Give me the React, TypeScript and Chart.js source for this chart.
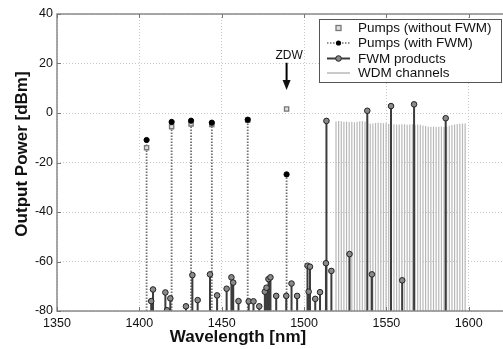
import React, { useEffect, useRef } from "react";
import { Chart, registerables } from "chart.js";

Chart.register(...registerables);

// ---------- data ----------
const X_TICKS = [1350, 1400, 1450, 1500, 1550, 1600, 1650];
const Y_TICKS = [-80, -60, -40, -20, 0, 20, 40];
const X_MIN = 1350;
const X_MAX = 1650;
const Y_MIN = -80;
const Y_MAX = 40;

const pumpWl = [1404.4, 1419.6, 1431.4, 1444.0, 1465.8, 1489.4];
const pumpWithFwm = [-10.9, -3.6, -3.1, -3.9, -2.7, -24.8];
const pumpWithoutFwm = [-14.0, -5.5, -4.4, -4.6, -2.9, 1.6];

const fwmWl = [
  1407.2, 1408.3, 1415.8, 1416.8, 1418.8, 1428.3, 1432.2, 1435.4, 1442.9, 1447.2,
  1453.0, 1455.9, 1457.0, 1460.2, 1466.4, 1469.3, 1472.8, 1476.2, 1477.2, 1478.4,
  1479.6, 1483.1, 1489.2, 1492.4, 1495.8, 1502.1, 1502.8, 1503.6, 1506.8, 1509.7,
  1513.3, 1513.6, 1516.6, 1527.6, 1538.4, 1541.2, 1552.8, 1559.6, 1566.8, 1586.0,
];
const fwmPower = [
  -76.0, -71.3, -72.5, -79.7, -74.9, -78.1, -65.5, -75.6, -65.2, -73.7,
  -71.0, -66.4, -68.5, -76.0, -76.1, -76.1, -78.1, -72.2, -70.6, -67.1,
  -66.4, -73.9, -73.9, -68.9, -73.9, -61.7, -72.2, -62.1, -75.1, -72.4,
  -60.7, -3.2, -63.8, -57.0, 0.9, -65.2, 2.8, -67.6, 3.5, -2.1,
];

const wdmWl = [
  1519.4, 1521.0, 1522.6, 1524.2, 1525.8, 1527.4, 1529.0, 1530.6, 1532.2, 1533.8,
  1535.4, 1537.0, 1538.6, 1540.2, 1541.8, 1543.4, 1545.0, 1546.6, 1548.2, 1549.8,
  1551.4, 1553.0, 1554.6, 1556.2, 1557.8, 1559.4, 1561.0, 1562.6, 1564.2, 1565.8,
  1567.4, 1569.0, 1570.6, 1572.2, 1573.8, 1575.4, 1577.0, 1578.6, 1580.2, 1581.8,
  1583.4, 1585.0, 1586.6, 1588.2, 1589.8, 1591.4, 1593.0, 1594.6, 1596.2, 1597.8,
];
const wdmPower = [
  -3.4, -3.2, -3.3, -3.5, -3.4, -3.6, -3.5, -3.7, -3.5, -3.3,
  -3.2, -3.4, -3.8, -4.3, -4.2, -4.0, -3.9, -4.0, -4.1, -4.0,
  -4.4, -4.3, -4.5, -4.6, -4.6, -4.5, -4.5, -4.7, -4.6, -4.5,
  -4.8, -4.6, -4.7, -5.0, -5.3, -5.6, -5.6, -5.5, -5.7, -5.6,
  -5.5, -5.7, -5.6, -5.2, -4.8, -4.6, -4.4, -4.3, -4.2, -4.2,
];

const ZDW_WL = 1489.4;
const ZDW_ARROW_TOP = 20.3;
const ZDW_ARROW_TIP = 9.3;

const legendLabels = [
  "Pumps (without FWM)",
  "Pumps (with FWM)",
  "FWM products",
  "WDM channels",
];

const X_TITLE = "Wavelength [nm]";
const Y_TITLE = "Output Power [dBm]";

// ---------- styles ----------
const FONT = "'Liberation Sans', Arial, Helvetica, sans-serif";
const C_PUMP_STEM = "#707070";
const C_FWM_STEM = "#3c3c3c";
const C_WDM = "#b8b8b8";

function stems(xs: number[], ys: number[]) {
  const out: any[] = [];
  xs.forEach((x, i) => {
    out.push({ x, y: Y_MIN }, { x, y: ys[i] }, { x, y: null });
  });
  return out;
}
function points(xs: number[], ys: number[]) {
  return xs.map((x, i) => ({ x, y: ys[i] }));
}

const overlay = {
  id: "overlay",
  afterDatasetsDraw(chart: any) {
    const { ctx, chartArea: a, scales } = chart;
    const xs = scales.x;
    const ys = scales.y;
    ctx.save();
    // box
    ctx.strokeStyle = "#8a8a8a";
    ctx.lineWidth = 1.5;
    ctx.setLineDash([]);
    ctx.strokeRect(a.left, a.top, a.right - a.left, a.bottom - a.top);
    // inward ticks
    ctx.lineWidth = 1;
    ctx.strokeStyle = "#777";
    ctx.beginPath();
    xs.ticks.forEach((t: any) => {
      const px = Math.round(xs.getPixelForValue(t.value)) + 0.5;
      ctx.moveTo(px, a.top);
      ctx.lineTo(px, a.top + 4);
      ctx.moveTo(px, a.bottom);
      ctx.lineTo(px, a.bottom - 4);
    });
    ys.ticks.forEach((t: any) => {
      const py = Math.round(ys.getPixelForValue(t.value)) + 0.5;
      ctx.moveTo(a.left, py);
      ctx.lineTo(a.left + 4, py);
    });
    ctx.stroke();

    // ZDW annotation
    const zx = xs.getPixelForValue(ZDW_WL);
    const zTop = ys.getPixelForValue(ZDW_ARROW_TOP);
    const zTip = ys.getPixelForValue(ZDW_ARROW_TIP);
    ctx.fillStyle = "#111";
    ctx.font = `12px ${FONT}`;
    ctx.textAlign = "center";
    ctx.textBaseline = "middle";
    ctx.fillText("ZDW", zx + 2.5, zTop - 7);
    ctx.strokeStyle = "#000";
    ctx.lineWidth = 2;
    ctx.beginPath();
    ctx.moveTo(zx, zTop);
    ctx.lineTo(zx, zTip - 8);
    ctx.stroke();
    ctx.beginPath();
    ctx.moveTo(zx - 4, zTip - 10);
    ctx.lineTo(zx + 4, zTip - 10);
    ctx.lineTo(zx, zTip);
    ctx.closePath();
    ctx.fill();

    // legend
    const lx = 319, ly = 19, lw = 182, lh = 63;
    ctx.fillStyle = "#fff";
    ctx.fillRect(lx, ly, lw, lh);
    ctx.strokeStyle = "#555";
    ctx.lineWidth = 1;
    ctx.strokeRect(lx + 0.5, ly + 0.5, lw, lh);
    const rows = [28, 43, 58.5, 73];
    const sx0 = 327, sx1 = 350, mx = 338.5;
    // row 0: open square
    ctx.fillStyle = "#e0e0e0";
    ctx.strokeStyle = "#777";
    ctx.lineWidth = 1.3;
    ctx.fillRect(mx - 2.5, rows[0] - 2.5, 5, 5);
    ctx.strokeRect(mx - 2.5, rows[0] - 2.5, 5, 5);
    // row 1: dotted + black dot
    ctx.strokeStyle = C_PUMP_STEM;
    ctx.lineWidth = 1.5;
    ctx.setLineDash([1.5, 1.5]);
    ctx.beginPath();
    ctx.moveTo(sx0, rows[1]);
    ctx.lineTo(sx1, rows[1]);
    ctx.stroke();
    ctx.setLineDash([]);
    ctx.fillStyle = "#000";
    ctx.beginPath();
    ctx.arc(mx, rows[1], 2.6, 0, Math.PI * 2);
    ctx.fill();
    // row 2: solid + circle
    ctx.strokeStyle = C_FWM_STEM;
    ctx.lineWidth = 2;
    ctx.beginPath();
    ctx.moveTo(sx0, rows[2]);
    ctx.lineTo(sx1, rows[2]);
    ctx.stroke();
    ctx.fillStyle = "#8a8a8a";
    ctx.strokeStyle = "#222";
    ctx.lineWidth = 1;
    ctx.beginPath();
    ctx.arc(mx, rows[2], 2.8, 0, Math.PI * 2);
    ctx.fill();
    ctx.stroke();
    // row 3: light line
    ctx.strokeStyle = C_WDM;
    ctx.lineWidth = 1.5;
    ctx.beginPath();
    ctx.moveTo(sx0, rows[3]);
    ctx.lineTo(sx1, rows[3]);
    ctx.stroke();
    // texts
    ctx.fillStyle = "#111";
    ctx.font = `13.5px ${FONT}`;
    ctx.textAlign = "left";
    ctx.textBaseline = "middle";
    legendLabels.forEach((t, i) => ctx.fillText(t, 358, rows[i] + 0.5));

    // axis titles
    ctx.font = `bold 17px ${FONT}`;
    ctx.textAlign = "center";
    ctx.textBaseline = "middle";
    ctx.fillText(X_TITLE, 238, 337);
    ctx.translate(22, 154);
    ctx.rotate(-Math.PI / 2);
    ctx.fillText(Y_TITLE, 0, 0);
    ctx.restore();
  },
};

export default function App() {
  const ref = useRef<HTMLCanvasElement | null>(null);
  useEffect(() => {
    if (!ref.current) return;
    const chart = new Chart(ref.current, {
      type: "line",
      data: {
        datasets: [
          {
            label: "Pumps (with FWM) markers",
            data: points(pumpWl, pumpWithFwm),
            showLine: false,
            pointStyle: "circle",
            pointRadius: 2.6,
            pointBackgroundColor: "#000",
            pointBorderColor: "#000",
            pointBorderWidth: 1,
            order: 0,
          } as any,
          {
            label: "Pumps (without FWM)",
            data: points(pumpWl, pumpWithoutFwm),
            showLine: false,
            pointStyle: "rect",
            pointRadius: 3,
            pointBackgroundColor: "#e0e0e0",
            pointBorderColor: "#777",
            pointBorderWidth: 1.3,
            order: 1,
          },
          {
            label: "FWM products markers",
            data: points(fwmWl, fwmPower),
            showLine: false,
            pointStyle: "circle",
            pointRadius: 2.8,
            pointBackgroundColor: "#8a8a8a",
            pointBorderColor: "#222",
            pointBorderWidth: 1,
            order: 2,
          },
          {
            label: "FWM stems",
            data: stems(fwmWl, fwmPower),
            borderColor: C_FWM_STEM,
            borderWidth: 2,
            pointRadius: 0,
            spanGaps: false,
            order: 3,
          },
          {
            label: "Pump stems",
            data: stems(pumpWl, pumpWithFwm),
            borderColor: C_PUMP_STEM,
            borderWidth: 1.8,
            borderDash: [1.5, 1.5],
            pointRadius: 0,
            spanGaps: false,
            order: 4,
          },
          {
            label: "WDM channels",
            data: stems(wdmWl, wdmPower),
            borderColor: C_WDM,
            borderWidth: 1.2,
            pointRadius: 0,
            spanGaps: false,
            order: 5,
          },
        ],
      },
      options: {
        responsive: false,
        animation: false,
        events: [],
        layout: { padding: { top: 14, right: 13, left: 0, bottom: 0 } },
        plugins: { legend: { display: false }, tooltip: { enabled: false } },
        scales: {
          x: {
            type: "linear",
            min: X_MIN,
            max: X_MAX,
            afterBuildTicks: (s: any) => {
              s.ticks = X_TICKS.map((v) => ({ value: v }));
            },
            afterFit: (s: any) => {
              s.height = 38;
            },
            grid: { color: "#c8c8c8", lineWidth: 1, drawTicks: false },
            border: { display: false, dash: [1, 2] },
            ticks: {
              padding: 5,
              color: "#111",
              font: { family: FONT, size: 12.5 },
              maxRotation: 0,
              callback: (v: any) => String(v),
            },
          },
          y: {
            type: "linear",
            min: Y_MIN,
            max: Y_MAX,
            afterBuildTicks: (s: any) => {
              s.ticks = Y_TICKS.map((v) => ({ value: v }));
            },
            afterFit: (s: any) => {
              s.width = 57;
            },
            grid: { color: "#c8c8c8", lineWidth: 1, drawTicks: false },
            border: { display: false, dash: [1, 2] },
            ticks: {
              padding: 4,
              color: "#111",
              font: { family: FONT, size: 12.5 },
              callback: (v: any) => String(v),
            },
          },
        },
      },
      plugins: [overlay],
    });
    return () => chart.destroy();
  }, []);

  return (
    <div
      style={{
        position: "fixed",
        left: 0,
        top: 0,
        width: 503,
        height: 349,
        overflow: "hidden",
        background: "#fff",
      }}
    >
      <canvas ref={ref} width={570} height={349} style={{ display: "block" }} />
    </div>
  );
}
